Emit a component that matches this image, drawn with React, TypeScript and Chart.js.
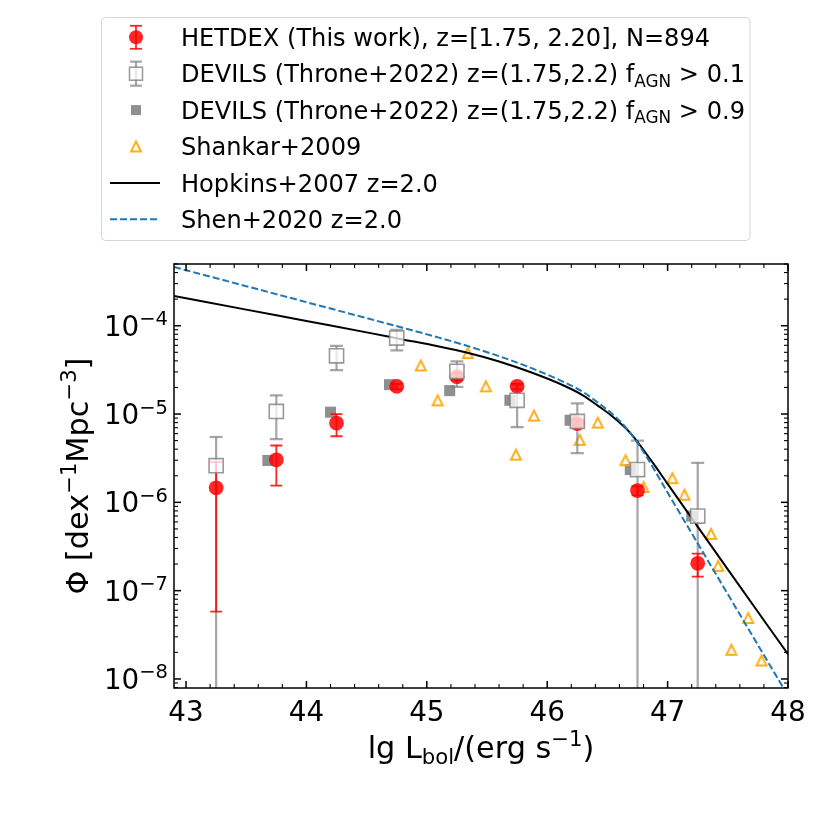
import React, { useEffect, useRef } from "react";
import { Chart, registerables } from "chart.js";

Chart.register(...registerables);

const FONT = '"DejaVu Sans", sans-serif';

// ---------------- data ----------------
// HETDEX (This work)
const hetdexLgL = [43.25, 43.75, 44.25, 44.75, 45.25, 45.75, 46.25, 46.75, 47.25];
const hetdexPhi = [1.46e-6, 3.03e-6, 7.9e-6, 2.06e-5, 2.65e-5, 2.06e-5, 7.8e-6, 1.36e-6, 2.04e-7];
const hetdexPhiLo = [5.8e-8, 1.55e-6, 5.6e-6, 1.9e-5, 2.4e-5, 1.9e-5, 7.0e-6, 1.2e-6, 1.44e-7];
const hetdexPhiHi = [2.86e-6, 4.4e-6, 1.0e-5, 2.2e-5, 2.9e-5, 2.2e-5, 8.6e-6, 1.52e-6, 2.62e-7];

// DEVILS f_AGN > 0.1 (lower bound 0 = extends below the axis)
const devils1LgL = [43.25, 43.75, 44.25, 44.75, 45.25, 45.75, 46.25, 46.75, 47.25];
const devils1Phi = [2.6e-6, 1.07e-5, 4.57e-5, 7.25e-5, 3.04e-5, 1.43e-5, 8.24e-6, 2.35e-6, 7.0e-7];
const devils1PhiLo = [0, 5.2e-6, 3.15e-5, 5.25e-5, 2.03e-5, 7.1e-6, 3.6e-6, 0, 0];
const devils1PhiHi = [5.5e-6, 1.63e-5, 5.9e-5, 9.0e-5, 3.95e-5, 2.15e-5, 1.32e-5, 5.0e-6, 2.8e-6];

// DEVILS f_AGN > 0.9
const devils9LgL = [43.68, 44.2, 44.69, 45.19, 45.69, 46.19, 46.69, 47.2];
const devils9Phi = [2.98e-6, 1.05e-5, 2.15e-5, 1.84e-5, 1.43e-5, 8.5e-6, 2.35e-6, 7.0e-7];

// Shankar+2009
const shankarLgL = [44.95, 45.09, 45.34, 45.49, 45.74, 45.89, 46.27, 46.42, 46.65, 46.8, 47.04, 47.14, 47.36, 47.42, 47.53, 47.67, 47.78];
const shankarPhi = [3.55e-5, 1.43e-5, 4.9e-5, 2.06e-5, 3.47e-6, 9.6e-6, 5.1e-6, 8.0e-6, 3.0e-6, 1.49e-6, 1.88e-6, 1.22e-6, 4.4e-7, 1.91e-7, 2.14e-8, 4.9e-8, 1.62e-8];

// Hopkins+2007 z=2.0
const hopkinsLgL = [42.9, 43.5, 44.0, 44.5, 44.8, 45.1, 45.32, 45.6, 45.87, 46.15, 46.3, 46.42, 46.53, 46.7, 46.86, 47.0, 47.5, 48.0];
const hopkinsPhi = [2.168e-4, 1.521e-4, 1.13e-4, 8.41e-5, 7.0e-5, 5.82e-5, 5.01e-5, 3.94e-5, 2.95e-5, 2.065e-5, 1.62e-5, 1.245e-5, 9.66e-6, 5.89e-6, 3.02e-6, 1.62e-6, 1.74e-7, 1.905e-8];

// Shen+2020 z=2.0
const shenLgL = [42.9, 43.5, 44.0, 44.5, 44.8, 45.1, 45.32, 45.6, 45.87, 46.15, 46.3, 46.42, 46.55, 46.67, 46.8, 47.0, 47.5, 48.0];
const shenPhi = [4.62e-4, 2.805e-4, 1.849e-4, 1.219e-4, 9.48e-5, 7.33e-5, 6.0e-5, 4.52e-5, 3.31e-5, 2.265e-5, 1.77e-5, 1.35e-5, 9.77e-6, 6.61e-6, 3.72e-6, 1.29e-6, 9.12e-8, 6.46e-9];

// axes
const xMin = 42.9;
const xMax = 48.0;
const yMin = 7.9e-9;
const yMax = 5.0e-4;
const xMajorTicks = [43, 44, 45, 46, 47, 48];
const yMajorExponents = [-8, -7, -6, -5, -4];

// legend labels
const legendHetdex = "HETDEX (This work), z=[1.75, 2.20], N=894";
const legendDevilsBase = "DEVILS (Throne+2022) z=(1.75,2.2) f";
const legendDevils1Tail = " > 0.1";
const legendDevils9Tail = " > 0.9";
const legendShankar = "Shankar+2009";
const legendHopkins = "Hopkins+2007 z=2.0";
const legendShen = "Shen+2020 z=2.0";

// ---------------- styles ----------------
const RED = "rgba(255,0,0,0.85)";
const GRAY_ERR = "rgba(128,128,128,0.7)";
const GRAY_EDGE = "rgba(128,128,128,0.8)";
const WHITE_FACE = "rgba(255,255,255,0.75)";
const GRAY_FILL = "rgba(128,128,128,0.88)";
const ORANGE = "rgba(255,165,0,0.9)";
const BLUE = "#1f77b4";

const TICK_FS = 27.8;
const SUP_FS = 19.5;
const LAB_FS = 30.3;
const LAB_SUP = 21.2;
const LEG_FS = 24.1;

type Seg = { t: string; s: number; dy?: number };

function richWidth(ctx: CanvasRenderingContext2D, segs: Seg[]) {
  let w = 0;
  for (const g of segs) {
    ctx.font = `${g.s}px ${FONT}`;
    w += ctx.measureText(g.t).width;
  }
  return w;
}

function drawRich(ctx: CanvasRenderingContext2D, segs: Seg[], x: number, y: number, align: "left" | "center" | "right") {
  const w = richWidth(ctx, segs);
  let cx = align === "left" ? x : align === "center" ? x - w / 2 : x - w;
  ctx.textAlign = "left";
  ctx.textBaseline = "alphabetic";
  for (const g of segs) {
    ctx.font = `${g.s}px ${FONT}`;
    ctx.fillText(g.t, cx, y + (g.dy || 0));
    cx += ctx.measureText(g.t).width;
  }
}

let triCache: HTMLCanvasElement | null = null;
function getTriangle(): HTMLCanvasElement {
  if (triCache) return triCache;
  const c = document.createElement("canvas");
  c.width = 18;
  c.height = 18;
  const g = c.getContext("2d")!;
  const m = 9;
  const h = 5.0;
  g.beginPath();
  g.moveTo(m, m - h);
  g.lineTo(m - h, m + h);
  g.lineTo(m + h, m + h);
  g.closePath();
  g.lineWidth = 2.0;
  g.lineJoin = "miter";
  g.strokeStyle = ORANGE;
  g.stroke();
  triCache = c;
  return c;
}

function drawErrorBars(chart: any, ds: any) {
  const ctx: CanvasRenderingContext2D = chart.ctx;
  const xs = chart.scales.x;
  const ys = chart.scales.y;
  const area = chart.chartArea;
  ctx.save();
  ctx.beginPath();
  ctx.rect(area.left, area.top, area.right - area.left, area.bottom - area.top);
  ctx.clip();
  ctx.strokeStyle = ds.errColor;
  ctx.lineWidth = ds.errWidth;
  ctx.lineCap = "butt";
  for (let i = 0; i < ds.data.length; i++) {
    const px = xs.getPixelForValue(ds.data[i].x);
    const lo = ds.errLo[i];
    const hi = ds.errHi[i];
    const yl = lo > 0 ? ys.getPixelForValue(lo) : area.bottom + 20;
    const yh = ys.getPixelForValue(hi);
    ctx.beginPath();
    ctx.moveTo(px, yl);
    ctx.lineTo(px, yh);
    ctx.stroke();
    ctx.beginPath();
    ctx.moveTo(px - ds.capHalf, yh);
    ctx.lineTo(px + ds.capHalf, yh);
    if (lo > 0) {
      ctx.moveTo(px - ds.capHalf, yl);
      ctx.lineTo(px + ds.capHalf, yl);
    }
    ctx.stroke();
  }
  ctx.restore();
}

const errorBarPlugin = {
  id: "errorBars",
  beforeDatasetDraw(chart: any, args: any) {
    const ds = chart.data.datasets[args.index];
    if (!ds || !ds.errorsBelowMe) return;
    for (const d of chart.data.datasets) {
      if (d.errLo) drawErrorBars(chart, d);
    }
  },
};

const axesPlugin = {
  id: "mplAxes",
  afterDatasetsDraw(chart: any) {
    const ctx: CanvasRenderingContext2D = chart.ctx;
    const xs = chart.scales.x;
    const ys = chart.scales.y;
    const { left, right, top, bottom } = chart.chartArea;
    ctx.save();
    ctx.strokeStyle = "#000";
    ctx.fillStyle = "#000";
    ctx.lineWidth = 1.5;
    ctx.strokeRect(left, top, right - left, bottom - top);
    const line = (x1: number, y1: number, x2: number, y2: number) => {
      ctx.beginPath();
      ctx.moveTo(x1, y1);
      ctx.lineTo(x2, y2);
      ctx.stroke();
    };
    for (let k = 0; k <= 25; k++) {
      const rv = 43 + k * 0.2;
      const major = k % 5 === 0;
      const px = xs.getPixelForValue(rv);
      const len = major ? 7 : 4;
      ctx.lineWidth = major ? 1.5 : 1.1;
      line(px, bottom, px, bottom - len);
      line(px, top, px, top + len);
    }
    for (let e = -9; e <= -4; e++) {
      for (let m = 1; m <= 9; m++) {
        const v = m * Math.pow(10, e);
        if (v < yMin * 0.999 || v > yMax * 1.001) continue;
        const py = ys.getPixelForValue(v);
        const major = m === 1;
        const len = major ? 7 : 4;
        ctx.lineWidth = major ? 1.5 : 1.1;
        line(left, py, left + len, py);
        line(right, py, right - len, py);
      }
    }
    ctx.font = `${TICK_FS}px ${FONT}`;
    ctx.textAlign = "center";
    ctx.textBaseline = "alphabetic";
    for (const v of xMajorTicks) {
      ctx.fillText(String(v), xs.getPixelForValue(v), bottom + 33);
    }
    for (const e of yMajorExponents) {
      const py = ys.getPixelForValue(Math.pow(10, e));
      drawRich(
        ctx,
        [
          { t: "10", s: TICK_FS },
          { t: "\u2212" + String(-e), s: SUP_FS, dy: -10.5 },
        ],
        left - 6,
        py + 10,
        "right"
      );
    }
    drawRich(
      ctx,
      [
        { t: "lg L", s: LAB_FS },
        { t: "bol", s: LAB_SUP, dy: 5.5 },
        { t: "/(erg s", s: LAB_FS },
        { t: "\u22121", s: LAB_SUP, dy: -12 },
        { t: ")", s: LAB_FS },
      ],
      (left + right) / 2,
      758,
      "center"
    );
    ctx.save();
    ctx.translate(88, (top + bottom) / 2);
    ctx.rotate(-Math.PI / 2);
    drawRich(
      ctx,
      [
        { t: "\u03A6 [dex", s: LAB_FS },
        { t: "\u22121", s: LAB_SUP, dy: -12 },
        { t: "Mpc", s: LAB_FS },
        { t: "\u22123", s: LAB_SUP, dy: -12 },
        { t: "]", s: LAB_FS },
      ],
      0,
      0,
      "center"
    );
    ctx.restore();
    ctx.restore();
  },
};

const legendPlugin = {
  id: "mplLegend",
  afterDraw(chart: any) {
    const ctx: CanvasRenderingContext2D = chart.ctx;
    ctx.save();
    const bx = 101.5, by = 17.5, bw = 648.5, bh = 223, r = 4;
    ctx.beginPath();
    ctx.moveTo(bx + r, by);
    ctx.lineTo(bx + bw - r, by);
    ctx.quadraticCurveTo(bx + bw, by, bx + bw, by + r);
    ctx.lineTo(bx + bw, by + bh - r);
    ctx.quadraticCurveTo(bx + bw, by + bh, bx + bw - r, by + bh);
    ctx.lineTo(bx + r, by + bh);
    ctx.quadraticCurveTo(bx, by + bh, bx, by + bh - r);
    ctx.lineTo(bx, by + r);
    ctx.quadraticCurveTo(bx, by, bx + r, by);
    ctx.closePath();
    ctx.fillStyle = "rgba(255,255,255,0.8)";
    ctx.fill();
    ctx.strokeStyle = "rgba(204,204,204,0.8)";
    ctx.lineWidth = 1;
    ctx.stroke();

    const rows = [37.3, 73.7, 110.1, 146.5, 182.9, 219.3];
    const mx = 136;
    const tx = 181;
    const seg = (px: number, py: number, qx: number, qy: number) => {
      ctx.beginPath();
      ctx.moveTo(px, py);
      ctx.lineTo(qx, qy);
      ctx.stroke();
    };
    let y = rows[0];
    ctx.strokeStyle = RED;
    ctx.lineWidth = 1.8;
    seg(mx, y - 11.5, mx, y + 11.5);
    seg(mx - 6, y - 11.5, mx + 6, y - 11.5);
    seg(mx - 6, y + 11.5, mx + 6, y + 11.5);
    ctx.fillStyle = RED;
    ctx.beginPath();
    ctx.arc(mx, y, 7, 0, Math.PI * 2);
    ctx.fill();
    y = rows[1];
    ctx.strokeStyle = GRAY_ERR;
    ctx.lineWidth = 2.2;
    seg(mx, y - 12, mx, y + 12);
    seg(mx - 6, y - 12, mx + 6, y - 12);
    seg(mx - 6, y + 12, mx + 6, y + 12);
    ctx.fillStyle = WHITE_FACE;
    ctx.fillRect(mx - 6.5, y - 6.5, 13, 13);
    ctx.strokeStyle = GRAY_EDGE;
    ctx.lineWidth = 1.5;
    ctx.strokeRect(mx - 6.5, y - 6.5, 13, 13);
    y = rows[2];
    ctx.fillStyle = GRAY_FILL;
    ctx.fillRect(mx - 5, y - 5, 10, 10);
    y = rows[3];
    const tri = getTriangle();
    ctx.drawImage(tri, mx - tri.width / 2, y - tri.height / 2);
    y = rows[4];
    ctx.strokeStyle = "#000";
    ctx.lineWidth = 2;
    seg(110, y, 160, y);
    y = rows[5];
    ctx.strokeStyle = BLUE;
    ctx.setLineDash([7, 3]);
    seg(110, y, 160, y);
    ctx.setLineDash([]);

    ctx.fillStyle = "#000";
    const base = 8.6;
    drawRich(ctx, [{ t: legendHetdex, s: LEG_FS }], tx, rows[0] + base, "left");
    drawRich(
      ctx,
      [
        { t: legendDevilsBase, s: LEG_FS },
        { t: "AGN", s: LEG_FS * 0.7, dy: 4.5 },
        { t: legendDevils1Tail, s: LEG_FS },
      ],
      tx,
      rows[1] + base,
      "left"
    );
    drawRich(
      ctx,
      [
        { t: legendDevilsBase, s: LEG_FS },
        { t: "AGN", s: LEG_FS * 0.7, dy: 4.5 },
        { t: legendDevils9Tail, s: LEG_FS },
      ],
      tx,
      rows[2] + base,
      "left"
    );
    drawRich(ctx, [{ t: legendShankar, s: LEG_FS }], tx, rows[3] + base, "left");
    drawRich(ctx, [{ t: legendHopkins, s: LEG_FS }], tx, rows[4] + base, "left");
    drawRich(ctx, [{ t: legendShen, s: LEG_FS }], tx, rows[5] + base, "left");
    ctx.restore();
  },
};

const zip = (xs: number[], ys: number[]) => xs.map((x, i) => ({ x, y: ys[i] }));

export default function App() {
  const ref = useRef<HTMLCanvasElement>(null);

  useEffect(() => {
    const canvas = ref.current;
    if (!canvas) return;
    const tri = getTriangle();

    const chart: any = new Chart(canvas, {
      type: "scatter",
      data: {
        datasets: [
          {
            label: "DEVILS f>0.1",
            data: zip(devils1LgL, devils1Phi),
            pointStyle: "rect",
            pointRadius: 10,
            backgroundColor: WHITE_FACE,
            borderColor: GRAY_EDGE,
            borderWidth: 1.6,
            order: 0,
            errLo: devils1PhiLo,
            errHi: devils1PhiHi,
            errColor: GRAY_ERR,
            errWidth: 2.2,
            capHalf: 6.5,
          } as any,
          {
            label: "HETDEX",
            data: zip(hetdexLgL, hetdexPhi),
            pointStyle: "circle",
            pointRadius: 7.4,
            backgroundColor: RED,
            borderColor: "rgba(0,0,0,0)",
            borderWidth: 0,
            order: 1,
            errLo: hetdexPhiLo,
            errHi: hetdexPhiHi,
            errColor: RED,
            errWidth: 1.8,
            capHalf: 6,
          } as any,
          {
            type: "line",
            label: "Shen",
            data: zip(shenLgL, shenPhi),
            borderColor: BLUE,
            borderWidth: 2,
            borderDash: [7, 3],
            pointRadius: 0,
            fill: false,
            cubicInterpolationMode: "monotone",
            order: 2,
          } as any,
          {
            type: "line",
            label: "Hopkins",
            data: zip(hopkinsLgL, hopkinsPhi),
            borderColor: "#000",
            borderWidth: 2,
            pointRadius: 0,
            fill: false,
            cubicInterpolationMode: "monotone",
            order: 3,
            errorsBelowMe: true,
          } as any,
          {
            label: "Shankar",
            data: zip(shankarLgL, shankarPhi),
            pointStyle: tri,
            pointRadius: 5,
            order: 4,
          } as any,
          {
            label: "DEVILS f>0.9",
            data: zip(devils9LgL, devils9Phi),
            pointStyle: "rect",
            pointRadius: 7.8,
            backgroundColor: GRAY_FILL,
            borderColor: GRAY_FILL,
            borderWidth: 0,
            order: 5,
          } as any,
        ],
      },
      options: {
        animation: false,
        responsive: false,
        events: [],
        layout: { padding: { left: 0, right: 42, top: 264, bottom: 0 } },
        plugins: {
          legend: { display: false },
          tooltip: { enabled: false },
          title: { display: false },
        },
        scales: {
          x: {
            type: "linear",
            min: xMin,
            max: xMax,
            grid: { display: false },
            border: { display: false },
            ticks: { display: false },
            afterFit: (s: any) => {
              s.height = 142;
            },
          },
          y: {
            type: "logarithmic",
            min: yMin,
            max: yMax,
            grid: { display: false },
            border: { display: false },
            ticks: { display: false },
            afterFit: (s: any) => {
              s.width = 174;
            },
          },
        },
      } as any,
      plugins: [errorBarPlugin, axesPlugin, legendPlugin],
    });

    return () => chart.destroy();
  }, []);

  return (
    <div style={{ position: "absolute", left: 0, top: 0, width: 830, height: 830, background: "#fff" }}>
      <canvas ref={ref} width={830} height={830} style={{ display: "block", width: 830, height: 830 }} />
    </div>
  );
}
